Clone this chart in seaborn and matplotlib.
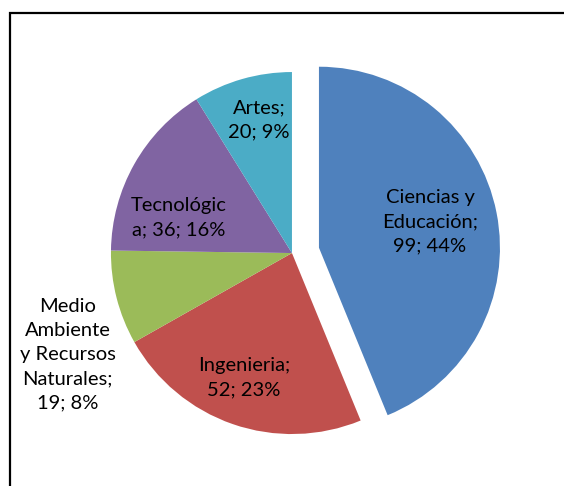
import numpy as np
import matplotlib
matplotlib.use('Agg')
import matplotlib.pyplot as plt
import seaborn as sns
from matplotlib.patches import Rectangle

# data
categorias = ['Ciencias y Educación', 'Ingenieria', 'Medio Ambiente y Recursos Naturales',
              'Tecnológica', 'Artes']
valores = [99, 52, 19, 36, 20]
# label text as wrapped in the chart, value and percent get appended
etiquetas = ['Ciencias y\nEducación;\n', 'Ingenieria;\n', 'Medio\nAmbiente\ny Recursos\nNaturales;\n',
             'Tecnológic\na; ', 'Artes;\n']
colores = ['#4F81BD', '#C0504D', '#9BBB59', '#8064A2', '#4BACC6']

sns.set_theme(style='white')
plt.rcParams['font.family'] = ['Lato', 'DejaVu Sans']

fig = plt.figure(figsize=(5.64, 4.86), dpi=100)
ax = fig.add_axes([0, 0, 1, 1])

explode = [0.152, 0, 0, 0, 0]
wedges, _ = ax.pie(valores, colors=sns.color_palette(colores), startangle=90,
                   counterclock=False, explode=explode,
                   wedgeprops=dict(linewidth=0))

# label placement: radial fraction and angle nudge (degrees) per slice
frac = [0.63, 0.74, 1.36, 0.655, 0.76]
nudge = [2, -2, 10, 12, -2]
total = sum(valores)
for w, lab, v, f, d in zip(wedges, etiquetas, valores, frac, nudge):
    ang = np.deg2rad((w.theta1 + w.theta2) / 2 + d)
    cx, cy = w.center
    x = cx + f * w.r * np.cos(ang)
    y = cy + f * w.r * np.sin(ang)
    txt = f'{lab}{v}; {round(100 * v / total)}%'
    ax.text(x, y, txt, ha='center', va='center', multialignment='center',
            fontsize=14.5, color='black', linespacing=1.5)

ax.set_xlim(-1.613, 1.503)
ax.set_ylim(-1.287, 1.398)
ax.set_aspect('equal')
ax.axis('off')

# chart frame (cut off at right and bottom)
fig.patches.append(Rectangle((10 / 564, -0.5), 2, 0.973 + 0.5, transform=fig.transFigure,
                             fill=False, edgecolor='black', linewidth=1.6))

fig.savefig('out.png', dpi=100)
